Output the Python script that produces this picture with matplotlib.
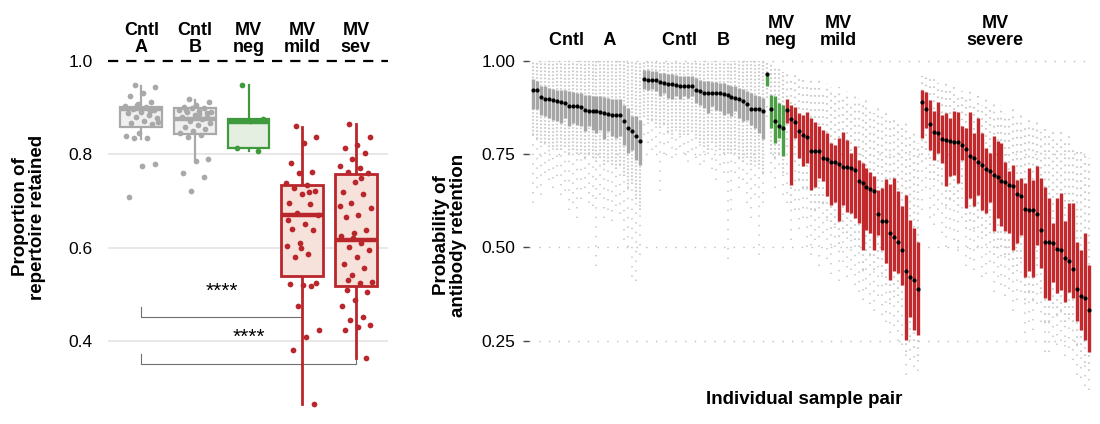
import matplotlib
matplotlib.use("Agg")
import matplotlib.pyplot as plt
import numpy as np

plt.rcParams["font.family"] = ["Liberation Sans", "DejaVu Sans"]

# ---------------- left panel: proportion of repertoire retained ----------------
groups_left = ["Cntl\nA", "Cntl\nB", "MV\nneg", "MV\nmild", "MV\nsev"]

pts_cntl_a = [0.949, 0.944, 0.931, 0.925, 0.913, 0.908, 0.904, 0.901, 0.898, 0.895,
              0.891, 0.888, 0.885, 0.881, 0.877, 0.872, 0.868, 0.865, 0.845, 0.839,
              0.834, 0.836, 0.779, 0.776, 0.709, 0.892, 0.905, 0.870]
pts_cntl_b = [0.918, 0.913, 0.906, 0.902, 0.900, 0.899, 0.896, 0.893, 0.890, 0.888,
              0.884, 0.879, 0.875, 0.872, 0.868, 0.863, 0.859, 0.854, 0.849, 0.845,
              0.841, 0.838, 0.789, 0.786, 0.761, 0.752, 0.722, 0.891, 0.887, 0.895,
              0.880]
pts_mv_neg = [0.949, 0.875, 0.872, 0.813, 0.808]
pts_mv_mild = [0.861, 0.838, 0.825, 0.781, 0.763, 0.759, 0.739, 0.734, 0.727, 0.722,
               0.716, 0.696, 0.694, 0.674, 0.670, 0.651, 0.641, 0.638, 0.609, 0.604,
               0.586, 0.579, 0.524, 0.520, 0.522, 0.518, 0.474, 0.424, 0.409, 0.381,
               0.266, 0.600, 0.660, 0.720]
pts_mv_sev = [0.866, 0.838, 0.820, 0.813, 0.802, 0.791, 0.774, 0.770, 0.763, 0.759,
              0.741, 0.720, 0.716, 0.695, 0.684, 0.670, 0.666, 0.638, 0.631, 0.624,
              0.609, 0.602, 0.595, 0.581, 0.566, 0.556, 0.541, 0.527, 0.524, 0.509,
              0.504, 0.488, 0.474, 0.452, 0.445, 0.434, 0.431, 0.424, 0.363, 0.620,
              0.690, 0.750, 0.530]

# box statistics: whisker low, q1, median, q3, whisker high
box_wlo = [0.833, 0.789, 0.808, 0.265, 0.363]
box_q1 = [0.859, 0.844, 0.8135, 0.539, 0.518]
box_med = [0.897, 0.876, 0.870, 0.670, 0.616]
box_q3 = [0.902, 0.899, 0.875, 0.734, 0.757]
box_whi = [0.946, 0.916, 0.949, 0.859, 0.866]

# significance brackets: (from group, to group, line y, label)
brackets = [(0, 3, 0.451, "****"), (0, 4, 0.351, "****")]

# ---------------- right panel: per sample pair ----------------
right_labels = ["Cntl    A", "Cntl    B", "MV\nneg", "MV\nmild", "MV\nsevere"]
right_sizes = [28, 31, 5, 34, 43]

med = [
    # Cntl A
    0.922, 0.922, 0.902, 0.897, 0.896, 0.894, 0.891, 0.889, 0.887, 0.879, 0.878, 0.878, 0.875, 0.869,
    0.866, 0.864, 0.864, 0.863, 0.860, 0.857, 0.855, 0.855, 0.854, 0.838, 0.820, 0.813, 0.799, 0.784,
    # Cntl B
    0.952, 0.949, 0.949, 0.947, 0.942, 0.940, 0.938, 0.938, 0.936, 0.933, 0.931, 0.931, 0.931, 0.922,
    0.918, 0.913, 0.913, 0.913, 0.913, 0.912, 0.911, 0.907, 0.903, 0.900, 0.897, 0.891, 0.885, 0.871,
    0.871, 0.871, 0.864,
    # MV neg
    0.964, 0.871, 0.839, 0.824, 0.820,
    # MV mild
    0.867, 0.845, 0.836, 0.811, 0.800, 0.796, 0.759, 0.757, 0.757, 0.739, 0.737, 0.730, 0.728, 0.723,
    0.715, 0.715, 0.712, 0.708, 0.679, 0.672, 0.663, 0.656, 0.650, 0.589, 0.570, 0.570, 0.538, 0.529,
    0.516, 0.494, 0.438, 0.420, 0.413, 0.389,
    # MV severe
    0.888, 0.871, 0.831, 0.808, 0.806, 0.790, 0.787, 0.784, 0.782, 0.782, 0.775, 0.764, 0.746, 0.739,
    0.730, 0.721, 0.710, 0.704, 0.695, 0.688, 0.677, 0.674, 0.668, 0.665, 0.644, 0.637, 0.603, 0.601,
    0.599, 0.590, 0.547, 0.516, 0.516, 0.513, 0.496, 0.492, 0.471, 0.465, 0.443, 0.388, 0.369, 0.364,
    0.333,
]
q3 = [
    0.951, 0.945, 0.933, 0.931, 0.927, 0.924, 0.922, 0.922, 0.921, 0.918, 0.915, 0.913, 0.913, 0.909,
    0.909, 0.906, 0.904, 0.904, 0.903, 0.900, 0.897, 0.897, 0.896, 0.882, 0.873, 0.851, 0.851, 0.842,
    0.976, 0.974, 0.971, 0.971, 0.967, 0.967, 0.965, 0.965, 0.962, 0.960, 0.960, 0.958, 0.960, 0.954,
    0.949, 0.945, 0.945, 0.942, 0.942, 0.940, 0.940, 0.936, 0.933, 0.931, 0.927, 0.924, 0.918, 0.913,
    0.909, 0.904, 0.900,
    0.966, 0.909, 0.904, 0.887, 0.882,
    0.896, 0.882, 0.876, 0.860, 0.855, 0.863, 0.846, 0.835, 0.826, 0.815, 0.806, 0.779, 0.775, 0.793,
    0.808, 0.788, 0.754, 0.772, 0.735, 0.726, 0.713, 0.702, 0.691, 0.654, 0.659, 0.683, 0.670, 0.687,
    0.650, 0.610, 0.641, 0.574, 0.552, 0.516,
    0.921, 0.915, 0.894, 0.864, 0.889, 0.855, 0.860, 0.846, 0.866, 0.862, 0.826, 0.820, 0.862, 0.806,
    0.846, 0.806, 0.766, 0.753, 0.799, 0.784, 0.779, 0.730, 0.704, 0.721, 0.681, 0.686, 0.672, 0.713,
    0.681, 0.717, 0.686, 0.663, 0.632, 0.565, 0.632, 0.645, 0.571, 0.618, 0.618, 0.516, 0.494, 0.540,
    0.454,
]
q1 = [
    0.871, 0.871, 0.855, 0.851, 0.846, 0.842, 0.838, 0.833, 0.846, 0.824, 0.833, 0.829, 0.824, 0.811,
    0.824, 0.815, 0.806, 0.815, 0.790, 0.811, 0.799, 0.793, 0.797, 0.775, 0.753, 0.762, 0.735, 0.721,
    0.924, 0.922, 0.924, 0.918, 0.904, 0.913, 0.900, 0.896, 0.904, 0.896, 0.904, 0.900, 0.904, 0.887,
    0.882, 0.873, 0.860, 0.878, 0.869, 0.864, 0.855, 0.860, 0.851, 0.864, 0.846, 0.838, 0.842, 0.829,
    0.820, 0.805, 0.790,
    0.931, 0.820, 0.779, 0.793, 0.744,
    0.833, 0.668, 0.793, 0.739, 0.717, 0.726, 0.654, 0.663, 0.686, 0.677, 0.637, 0.614, 0.623, 0.570,
    0.614, 0.596, 0.592, 0.579, 0.565, 0.494, 0.547, 0.538, 0.494, 0.533, 0.494, 0.458, 0.413, 0.436,
    0.431, 0.400, 0.253, 0.315, 0.279, 0.266,
    0.793, 0.820, 0.762, 0.735, 0.753, 0.726, 0.665, 0.690, 0.695, 0.672, 0.735, 0.605, 0.632, 0.610,
    0.641, 0.601, 0.592, 0.623, 0.543, 0.579, 0.557, 0.543, 0.538, 0.494, 0.512, 0.533, 0.422, 0.436,
    0.422, 0.507, 0.445, 0.364, 0.360, 0.409, 0.378, 0.386, 0.355, 0.382, 0.364, 0.302, 0.279, 0.253,
    0.221,
]
# highest grey point, end of the dense grey run, lowest grey point
dots_hi = [1.0] * 28 + [1.0] * 31 + [1.0, 0.99, 0.98, 0.98, 0.97] + [
    0.97, 0.96, 0.97, 0.95, 0.96, 0.94, 0.95, 0.93, 0.95, 0.92, 0.94, 0.93, 0.91, 0.93, 0.90, 0.92,
    0.89, 0.91, 0.90, 0.88, 0.90, 0.87, 0.86, 0.88, 0.85, 0.86, 0.84, 0.85, 0.83, 0.82, 0.84, 0.80,
    0.81, 0.78,
    0.96, 0.96, 0.95, 0.95, 0.94, 0.93, 0.94, 0.92, 0.93, 0.91, 0.92, 0.90, 0.92, 0.89, 0.91, 0.88,
    0.90, 0.87, 0.89, 0.86, 0.88, 0.86, 0.85, 0.87, 0.84, 0.86, 0.83, 0.85, 0.82, 0.84, 0.81, 0.83,
    0.80, 0.82, 0.79, 0.81, 0.78, 0.80, 0.77, 0.76, 0.77, 0.75, 0.74,
]
dots_dense_lo = [
    0.80, 0.79, 0.78, 0.78, 0.77, 0.77, 0.76, 0.76, 0.77, 0.75, 0.76, 0.75, 0.75, 0.74, 0.75, 0.74,
    0.73, 0.74, 0.72, 0.73, 0.72, 0.71, 0.72, 0.69, 0.66, 0.67, 0.63, 0.60,
    0.85, 0.84, 0.84, 0.83, 0.82, 0.83, 0.81, 0.80, 0.82, 0.80, 0.81, 0.80, 0.81, 0.79, 0.78, 0.77,
    0.76, 0.78, 0.77, 0.76, 0.75, 0.76, 0.75, 0.76, 0.74, 0.73, 0.74, 0.72, 0.73, 0.72, 0.70,
    0.90, 0.75, 0.74, 0.75, 0.70,
    0.77, 0.62, 0.73, 0.68, 0.66, 0.66, 0.60, 0.60, 0.62, 0.62, 0.58, 0.55, 0.56, 0.51, 0.55, 0.54,
    0.53, 0.52, 0.50, 0.44, 0.49, 0.48, 0.44, 0.47, 0.43, 0.40, 0.36, 0.38, 0.37, 0.34, 0.22, 0.26,
    0.23, 0.21,
    0.73, 0.76, 0.70, 0.68, 0.69, 0.67, 0.61, 0.63, 0.64, 0.61, 0.67, 0.55, 0.57, 0.55, 0.58, 0.54,
    0.53, 0.56, 0.48, 0.52, 0.50, 0.48, 0.48, 0.43, 0.45, 0.47, 0.36, 0.38, 0.36, 0.45, 0.39, 0.30,
    0.30, 0.35, 0.32, 0.33, 0.30, 0.32, 0.30, 0.24, 0.22, 0.19, 0.17,
]
dots_lo = [
    0.62, 0.66, 0.64, 0.70, 0.68, 0.66, 0.69, 0.64, 0.65, 0.60, 0.62, 0.58, 0.63, 0.66, 0.62, 0.61,
    0.45, 0.64, 0.58, 0.60, 0.57, 0.61, 0.59, 0.52, 0.50, 0.42, 0.41, 0.48,
    0.80, 0.78, 0.76, 0.77, 0.65, 0.75, 0.78, 0.74, 0.76, 0.77, 0.75, 0.73, 0.76, 0.74, 0.72, 0.73,
    0.75, 0.71, 0.68, 0.72, 0.70, 0.47, 0.60, 0.70, 0.66, 0.68, 0.62, 0.58, 0.64, 0.48, 0.62,
    0.85, 0.70, 0.66, 0.72, 0.64,
    0.62, 0.52, 0.60, 0.55, 0.58, 0.50, 0.48, 0.52, 0.45, 0.54, 0.47, 0.43, 0.50, 0.41, 0.46, 0.42,
    0.44, 0.40, 0.38, 0.36, 0.39, 0.35, 0.33, 0.37, 0.32, 0.30, 0.27, 0.29, 0.25, 0.24, 0.16, 0.20,
    0.18, 0.17,
    0.60, 0.66, 0.58, 0.56, 0.60, 0.54, 0.50, 0.55, 0.52, 0.49, 0.58, 0.45, 0.47, 0.44, 0.50, 0.42,
    0.43, 0.46, 0.38, 0.42, 0.40, 0.37, 0.39, 0.33, 0.36, 0.38, 0.27, 0.30, 0.28, 0.35, 0.30, 0.22,
    0.22, 0.26, 0.24, 0.25, 0.21, 0.23, 0.20, 0.16, 0.15, 0.13, 0.12,
]
right_label_x = [12.6, 41.0, 62.5, 77.0, 116.4]

GREY = "#a9a9a9"
GREEN = "#3f9a3e"
RED = "#b9262b"
edge_left = [GREY, GREY, GREEN, RED, RED]
fill_left = ["#f0f0f0", "#f0f0f0", "#e4eee1", "#f7e1db", "#f7e1db"]
bar_right = ["#a6a6a6", "#a6a6a6", "#4d9f47", "#c3282c", "#c3282c"]
# grey point density per group (controls are packed, MV groups spread out)
dense_gap = [0.9, 0.9, 1.2, 2.6, 2.6]

fig = plt.figure(figsize=(11, 4.24), dpi=100)

# ---------------- left ----------------
axL = fig.add_axes([108 / 1100, 1 - 411 / 424, 280 / 1100, 357 / 424])
stats = [
    dict(whislo=box_wlo[i], q1=box_q1[i], med=box_med[i], q3=box_q3[i], whishi=box_whi[i], fliers=[])
    for i in range(5)
]
bp = axL.bxp(stats, positions=range(5), widths=0.78, patch_artist=True,
             showfliers=False, showcaps=False, manage_ticks=False)
for i in range(5):
    lw = 2.0 if i >= 3 else 1.6
    bp["boxes"][i].set(facecolor=fill_left[i], edgecolor=edge_left[i], linewidth=lw, zorder=2)
    bp["medians"][i].set(color=edge_left[i], linewidth=3.2, zorder=2.5)
    for w in bp["whiskers"][2 * i:2 * i + 2]:
        w.set(color=edge_left[i], linewidth=lw, zorder=1.5)

all_pts = [pts_cntl_a, pts_cntl_b, pts_mv_neg, pts_mv_mild, pts_mv_sev]
for i, pts in enumerate(all_pts):
    n = len(pts)
    offs = (((np.arange(n) * 0.6180339 + 0.31) % 1.0) - 0.5) * 0.62
    axL.scatter(i + offs, pts, s=17, color=edge_left[i], linewidths=0, zorder=3)

for y in [0.4, 0.6, 0.8]:
    axL.axhline(y, color="#e6e6e6", lw=1.3, zorder=0)
axL.axhline(1.0, color="black", lw=1.6, dashes=(4.6, 3.6), zorder=1)

for g0, g1, y, lab in brackets:
    axL.plot([g0, g0, g1, g1], [y + 0.022, y, y, y + 0.022], color="#707070", lw=0.8, zorder=1)
    axL.text((g0 + g1) / 2, y + 0.036, lab, ha="center", va="bottom", fontsize=15)

axL.set_xlim(-0.62, 4.6)
axL.set_ylim(0.25, 1.015)
axL.set_yticks([0.4, 0.6, 0.8, 1.0])
axL.set_yticklabels(["0.4", "0.6", "0.8", "1.0"])
axL.set_xticks([])
axL.tick_params(axis="y", length=0, pad=11, labelsize=12.5)
for s in axL.spines.values():
    s.set_visible(False)
for i, lab in enumerate(groups_left):
    axL.text(i, 1.006, lab, transform=axL.get_xaxis_transform(), ha="center", va="baseline",
             fontsize=13, fontweight="bold", linespacing=1.0)
fig.text(29 / 1100, 1 - 217 / 424, "Proportion of\nrepertoire retained", rotation=90,
         ha="center", va="center", fontsize=13.5, fontweight="bold", linespacing=1.0)

# ---------------- right ----------------
assert len(med) == len(q1) == len(q3) == len(dots_hi) == len(dots_dense_lo) == len(dots_lo) == sum(right_sizes)
axR = fig.add_axes([529 / 1100, 1 - 397 / 424, 563 / 1100, 342 / 424])
x = np.arange(len(med))
bounds = np.concatenate([[0], np.cumsum(right_sizes)])

for y in [0.25, 0.5, 0.75, 1.0]:
    axR.axhline(y, color="#bdbdbd", lw=1.0, linestyle=(0, (1, 6)), zorder=0)

for g in range(len(right_sizes)):
    sl = slice(bounds[g], bounds[g + 1])
    xs = x[sl]
    axR.vlines(xs, dots_dense_lo[sl], dots_hi[sl], color="#cdcdcd", lw=1.5,
               linestyles=[(0, (0.8, dense_gap[g]))], zorder=1)
    axR.vlines(xs, dots_lo[sl], dots_dense_lo[sl], color="#cdcdcd", lw=1.3,
               linestyles=[(0, (0.8, 4.5))], zorder=1)
    axR.vlines(xs, q1[sl], q3[sl], color=bar_right[g], lw=2.4, zorder=2)
axR.scatter(x, med, s=9, color="black", linewidths=0, zorder=3)

axR.set_xlim(-1, 140.8)
axR.set_ylim(0.1, 1.015)
axR.set_yticks([0.25, 0.5, 0.75, 1.0])
axR.set_yticklabels(["0.25", "0.50", "0.75", "1.00"])
axR.set_xticks([])
axR.tick_params(axis="y", length=4, width=1, color="#444444", pad=6, labelsize=12.5)
for s in axR.spines.values():
    s.set_visible(False)
for lx, lab in zip(right_label_x, right_labels):
    axR.text(lx, 1.03, lab, transform=axR.get_xaxis_transform(), ha="center", va="baseline",
             fontsize=13, fontweight="bold", linespacing=1.0)
fig.text(450 / 1100, 1 - 235 / 424, "Probability of\nantibody retention", rotation=90,
         ha="center", va="center", fontsize=13.5, fontweight="bold", linespacing=1.0)
fig.text(804 / 1100, 1 - 400 / 424, "Individual sample pair", ha="center", va="center",
         fontsize=13.5, fontweight="bold")

fig.savefig("out.png", dpi=100)
